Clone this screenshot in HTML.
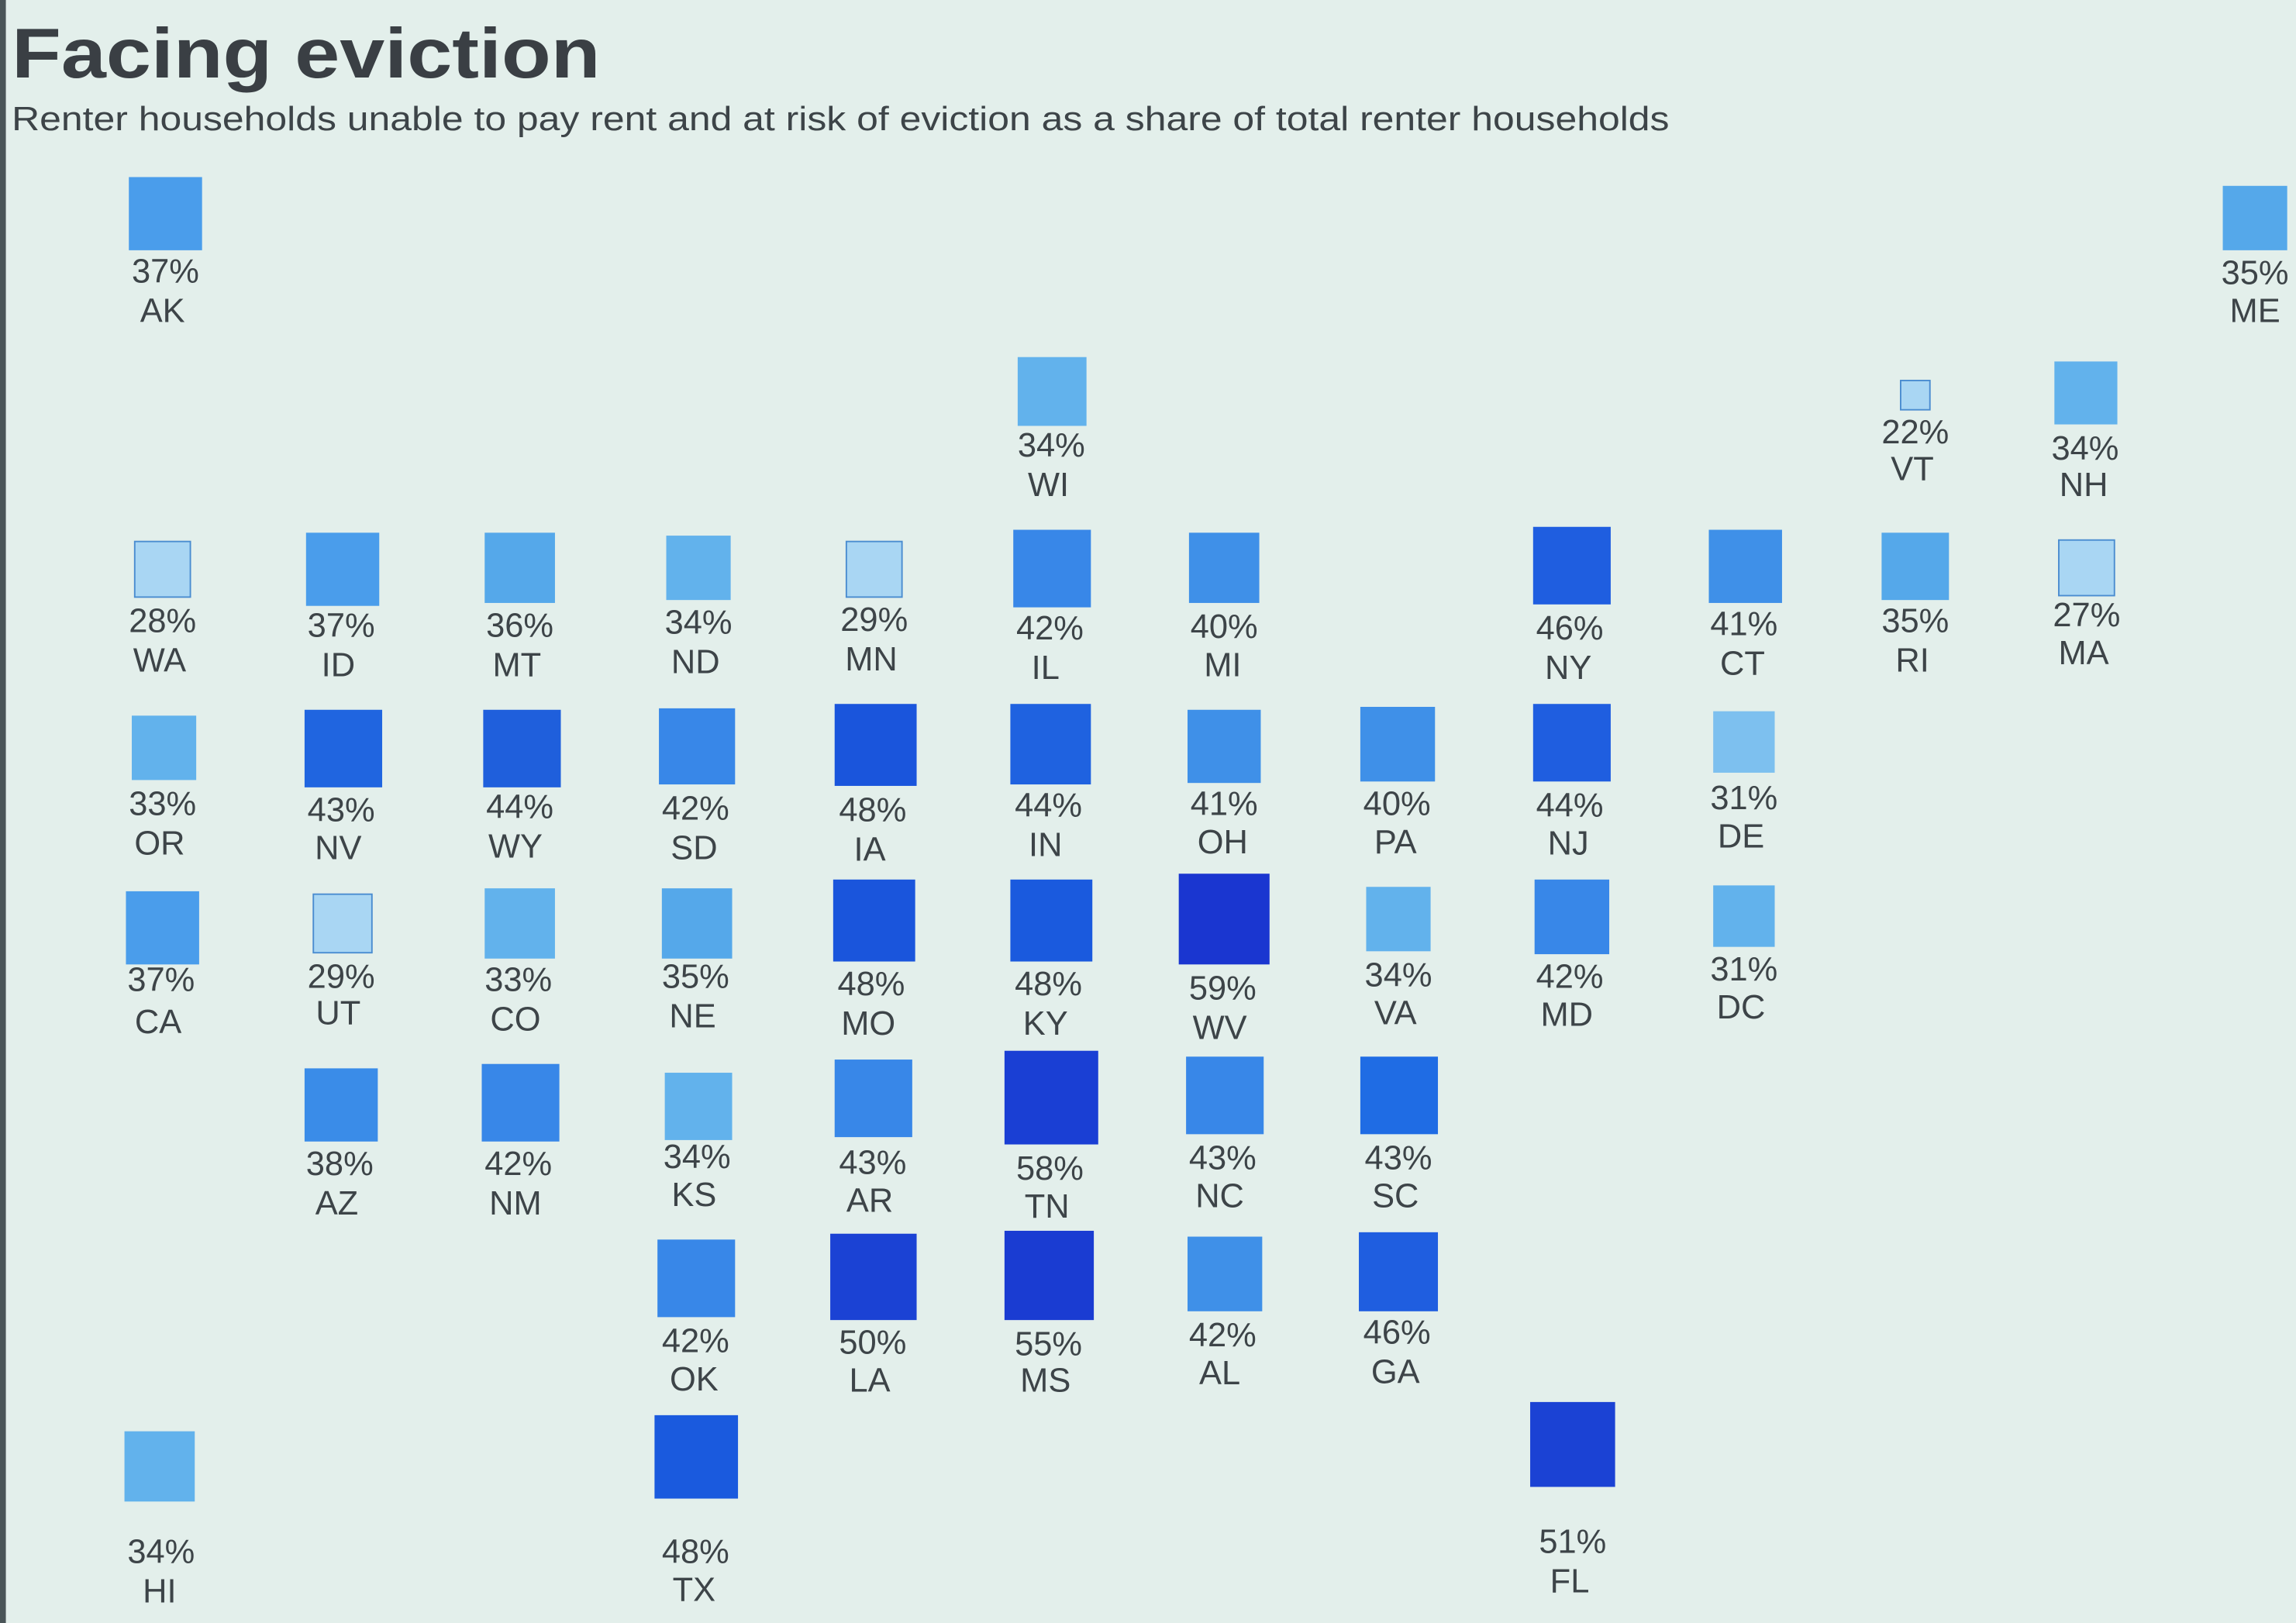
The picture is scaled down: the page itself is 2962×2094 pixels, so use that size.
<!DOCTYPE html>
<html><head><meta charset="utf-8"><style>
html,body{margin:0;padding:0;background:#e3efeb;}
svg{display:block}
text{font-family:"Liberation Sans",sans-serif;fill:#3d4448}
</style></head><body>
<svg width="2962" height="2094" viewBox="0 0 1568 1109" preserveAspectRatio="none" xmlns="http://www.w3.org/2000/svg">
<rect x="0" y="0" width="1568" height="1109" fill="#e3efeb"/>
<rect x="0" y="0" width="4" height="1109" fill="#4a5558"/>
<text x="8" y="53" font-size="48" font-weight="bold" textLength="402" lengthAdjust="spacingAndGlyphs" style="fill:#3a3f44">Facing eviction</text>
<text x="8" y="89" font-size="23" textLength="1132" lengthAdjust="spacingAndGlyphs">Renter households unable to pay rent and at risk of eviction as a share of total renter households</text>
<g font-size="23" text-anchor="middle">
<rect x="88" y="121" width="50" height="50" fill="#4a9deb"/><text x="113" y="193">37%</text><text x="111" y="220">AK</text>
<rect x="1518" y="127" width="44" height="44" fill="#55a8ea"/><text x="1540" y="194">35%</text><text x="1540" y="220">ME</text>
<rect x="695" y="244" width="47" height="47" fill="#62b2ec"/><text x="718" y="312">34%</text><text x="716" y="339">WI</text>
<rect x="1298" y="260" width="20" height="20" fill="#a9d6f3" stroke="#4a8cd0" stroke-width="1"/><text x="1308" y="303">22%</text><text x="1306" y="328">VT</text>
<rect x="1403" y="247" width="43" height="43" fill="#62b2ec"/><text x="1424" y="314">34%</text><text x="1423" y="339">NH</text>

<rect x="92" y="370" width="38" height="38" fill="#a9d6f3" stroke="#4a8cd0" stroke-width="1"/><text x="111" y="432">28%</text><text x="109" y="459">WA</text>
<rect x="209" y="364" width="50" height="50" fill="#4a9deb"/><text x="233" y="435">37%</text><text x="231" y="462">ID</text>
<rect x="331" y="364" width="48" height="48" fill="#55a8ea"/><text x="355" y="435">36%</text><text x="353" y="462">MT</text>
<rect x="455" y="366" width="44" height="44" fill="#62b2ec"/><text x="477" y="433">34%</text><text x="475" y="460">ND</text>
<rect x="578" y="370" width="38" height="38" fill="#a9d6f3" stroke="#4a8cd0" stroke-width="1"/><text x="597" y="431">29%</text><text x="595" y="458">MN</text>
<rect x="692" y="362" width="53" height="53" fill="#3887e8"/><text x="717" y="437">42%</text><text x="714" y="464">IL</text>
<rect x="812" y="364" width="48" height="48" fill="#3f90e8"/><text x="836" y="436">40%</text><text x="835" y="462">MI</text>
<rect x="1047" y="360" width="53" height="53" fill="#1f5ee0"/><text x="1072" y="437">46%</text><text x="1071" y="464">NY</text>
<rect x="1167" y="362" width="50" height="50" fill="#3f90e8"/><text x="1191" y="434">41%</text><text x="1190" y="461">CT</text>
<rect x="1285" y="364" width="46" height="46" fill="#55a8ea"/><text x="1308" y="432">35%</text><text x="1306" y="459">RI</text>
<rect x="1406" y="369" width="38" height="38" fill="#a9d6f3" stroke="#4a8cd0" stroke-width="1"/><text x="1425" y="428">27%</text><text x="1423" y="454">MA</text>

<rect x="90" y="489" width="44" height="44" fill="#62b2ec"/><text x="111" y="557">33%</text><text x="109" y="584">OR</text>
<rect x="208" y="485" width="53" height="53" fill="#2065e0"/><text x="233" y="561">43%</text><text x="231" y="587">NV</text>
<rect x="330" y="485" width="53" height="53" fill="#1f5fdc"/><text x="355" y="559">44%</text><text x="352" y="586">WY</text>
<rect x="450" y="484" width="52" height="52" fill="#3887e8"/><text x="475" y="560">42%</text><text x="474" y="587">SD</text>
<rect x="570" y="481" width="56" height="56" fill="#1a55dc"/><text x="596" y="561">48%</text><text x="594" y="588">IA</text>
<rect x="690" y="481" width="55" height="55" fill="#1f62e0"/><text x="716" y="558">44%</text><text x="714" y="585">IN</text>
<rect x="811" y="485" width="50" height="50" fill="#3f90e8"/><text x="836" y="557">41%</text><text x="835" y="583">OH</text>
<rect x="929" y="483" width="51" height="51" fill="#3f90e8"/><text x="954" y="557">40%</text><text x="953" y="583">PA</text>
<rect x="1047" y="481" width="53" height="53" fill="#1f5ee0"/><text x="1072" y="558">44%</text><text x="1071" y="584">NJ</text>
<rect x="1170" y="486" width="42" height="42" fill="#7dc0ef"/><text x="1191" y="553">31%</text><text x="1189" y="579">DE</text>

<rect x="86" y="609" width="50" height="50" fill="#4a9deb"/><text x="110" y="677">37%</text><text x="108" y="706">CA</text>
<rect x="214" y="611" width="40" height="40" fill="#a9d6f3" stroke="#4a8cd0" stroke-width="1"/><text x="233" y="675">29%</text><text x="231" y="700">UT</text>
<rect x="331" y="607" width="48" height="48" fill="#62b2ec"/><text x="354" y="677">33%</text><text x="352" y="704">CO</text>
<rect x="452" y="607" width="48" height="48" fill="#55a8ea"/><text x="475" y="675">35%</text><text x="473" y="702">NE</text>
<rect x="569" y="601" width="56" height="56" fill="#1a55dc"/><text x="595" y="680">48%</text><text x="593" y="707">MO</text>
<rect x="690" y="601" width="56" height="56" fill="#1a5ade"/><text x="716" y="680">48%</text><text x="714" y="707">KY</text>
<rect x="805" y="597" width="62" height="62" fill="#1a36d0"/><text x="835" y="683">59%</text><text x="833" y="710">WV</text>
<rect x="933" y="606" width="44" height="44" fill="#62b2ec"/><text x="955" y="674">34%</text><text x="953" y="700">VA</text>
<rect x="1048" y="601" width="51" height="51" fill="#3887e8"/><text x="1072" y="675">42%</text><text x="1070" y="701">MD</text>
<rect x="1170" y="605" width="42" height="42" fill="#62b2ec"/><text x="1191" y="670">31%</text><text x="1189" y="696">DC</text>

<rect x="208" y="730" width="50" height="50" fill="#3a8ce8"/><text x="232" y="803">38%</text><text x="230" y="830">AZ</text>
<rect x="329" y="727" width="53" height="53" fill="#3887e8"/><text x="354" y="803">42%</text><text x="352" y="830">NM</text>
<rect x="454" y="733" width="46" height="46" fill="#62b2ec"/><text x="476" y="798">34%</text><text x="474" y="824">KS</text>
<rect x="570" y="724" width="53" height="53" fill="#3887e8"/><text x="596" y="802">43%</text><text x="594" y="828">AR</text>
<rect x="686" y="718" width="64" height="64" fill="#1a3fd4"/><text x="717" y="806">58%</text><text x="715" y="832">TN</text>
<rect x="810" y="722" width="53" height="53" fill="#3887e8"/><text x="835" y="799">43%</text><text x="833" y="825">NC</text>
<rect x="929" y="722" width="53" height="53" fill="#1f6ce4"/><text x="955" y="799">43%</text><text x="953" y="825">SC</text>

<rect x="449" y="847" width="53" height="53" fill="#3887e8"/><text x="475" y="924">42%</text><text x="474" y="950">OK</text>
<rect x="567" y="843" width="59" height="59" fill="#1b42d4"/><text x="596" y="925">50%</text><text x="594" y="951">LA</text>
<rect x="686" y="841" width="61" height="61" fill="#1a3cd2"/><text x="716" y="926">55%</text><text x="714" y="951">MS</text>
<rect x="811" y="845" width="51" height="51" fill="#3f90e8"/><text x="835" y="920">42%</text><text x="833" y="946">AL</text>
<rect x="928" y="842" width="54" height="54" fill="#1f5ee0"/><text x="954" y="918">46%</text><text x="953" y="945">GA</text>

<rect x="85" y="978" width="48" height="48" fill="#62b2ec"/><text x="110" y="1068">34%</text><text x="109" y="1095">HI</text>
<rect x="447" y="967" width="57" height="57" fill="#1a5ade"/><text x="475" y="1068">48%</text><text x="474" y="1094">TX</text>
<rect x="1045" y="958" width="58" height="58" fill="#1b42d4"/><text x="1074" y="1061">51%</text><text x="1072" y="1088">FL</text>
</g>
</svg>
</body></html>
